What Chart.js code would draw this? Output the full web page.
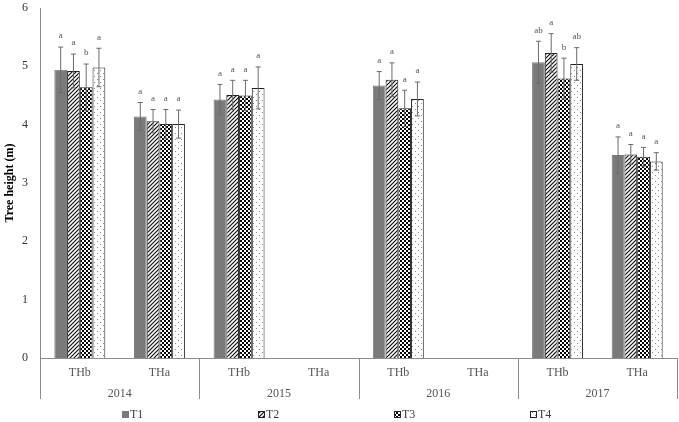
<!DOCTYPE html>
<html>
<head>
<meta charset="utf-8">
<script src="https://cdn.jsdelivr.net/npm/chart.js@4"></script>
<style>
  html, body { margin: 0; padding: 0; background: #fff; }
  #wrap { width: 679px; height: 422px; }
</style>
</head>
<body>
<div id="wrap"><canvas id="myChart" width="679" height="422"></canvas></div>
<script>
// データ
const categories = ['THb', 'THa', 'THb', 'THa', 'THb', 'THa', 'THb', 'THa'];
const years = ['2014', '2015', '2016', '2017'];
const yTicks = [0, 1, 2, 3, 4, 5, 6];

const t1 = [4.94, 4.14, 4.43, null, 4.67, null, 5.07, 3.48];
const t2 = [4.92, 4.06, 4.51, null, 4.77, null, 5.23, 3.49];
const t3 = [4.64, 4.01, 4.50, null, 4.28, null, 4.79, 3.45];
const t4 = [4.98, 4.01, 4.63, null, 4.44, null, 5.04, 3.37];

// 標準誤差
const e1 = [0.39, 0.24, 0.26, null, 0.24, null, 0.36, 0.31];
const e2 = [0.29, 0.20, 0.25, null, 0.29, null, 0.33, 0.17];
const e3 = [0.40, 0.25, 0.26, null, 0.31, null, 0.35, 0.16];
const e4 = [0.33, 0.24, 0.36, null, 0.29, null, 0.28, 0.15];

// 有意差の文字
const l1 = ['a', 'a', 'a', '', 'a', '', 'ab', 'a'];
const l2 = ['a', 'a', 'a', '', 'a', '', 'a', 'a'];
const l3 = ['b', 'a', 'a', '', 'a', '', 'b', 'a'];
const l4 = ['a', 'a', 'a', '', 'a', '', 'ab', 'a'];

const FONT = "'Liberation Serif', 'Times New Roman', serif";

// 塗りつぶしパターンを作る
function makePattern(type) {
  const c = document.createElement('canvas');
  const p = c.getContext('2d');
  if (type === 'hatch') {
    c.width = 4; c.height = 4;
    p.fillStyle = '#fff'; p.fillRect(0, 0, 4, 4);
    p.strokeStyle = '#111'; p.lineWidth = 1.2;
    p.beginPath();
    p.moveTo(-1, 5); p.lineTo(5, -1);
    p.moveTo(-1, 1); p.lineTo(1, -1);
    p.moveTo(3, 5); p.lineTo(5, 3);
    p.stroke();
  } else if (type === 'checker') {
    c.width = 4; c.height = 4;
    p.fillStyle = '#fff'; p.fillRect(0, 0, 4, 4);
    p.fillStyle = '#000';
    p.fillRect(0, 0, 2, 2); p.fillRect(2, 2, 2, 2);
  } else {
    c.width = 6; c.height = 6;
    p.fillStyle = '#fff'; p.fillRect(0, 0, 6, 6);
    p.fillStyle = '#8a8a8a';
    p.fillRect(1, 1, 1, 1); p.fillRect(4, 4, 1, 1);
  }
  return p.createPattern(c, 'repeat');
}

const errs = [e1, e2, e3, e4];
const letters = [l1, l2, l3, l4];

// 余白を固定する
function noPad(scale) {
  scale.paddingTop = 0; scale.paddingBottom = 0;
  scale.paddingLeft = 0; scale.paddingRight = 0;
}

// 誤差棒・文字・年の区切り線・凡例
const extras = {
  id: 'extras',
  afterDatasetsDraw(chart) {
    const ctx = chart.ctx;
    const y = chart.scales.y;
    ctx.save();
    ctx.strokeStyle = '#6b6b6b';
    ctx.lineWidth = 1;
    ctx.fillStyle = '#555';
    ctx.font = '9px ' + FONT;
    ctx.textAlign = 'center';
    ctx.textBaseline = 'middle';
    chart.data.datasets.forEach((ds, di) => {
      const meta = chart.getDatasetMeta(di);
      ds.data.forEach((v, i) => {
        if (v === null) return;
        const e = errs[di][i];
        const x = meta.data[i].x;
        const yt = y.getPixelForValue(v + e);
        const yb = y.getPixelForValue(v - e);
        ctx.beginPath();
        ctx.moveTo(x, yt); ctx.lineTo(x, yb);
        ctx.moveTo(x - 2.5, yt); ctx.lineTo(x + 2.5, yt);
        ctx.moveTo(x - 2.5, yb); ctx.lineTo(x + 2.5, yb);
        ctx.stroke();
        ctx.fillText(letters[di][i], x, yt - 11);
      });
    });
    ctx.restore();
  },
  afterDraw(chart) {
    const ctx = chart.ctx;
    const x = chart.scales.x;
    const x2 = chart.scales.x2;
    const half = (x.getPixelForValue(1) - x.getPixelForValue(0)) / 2;
    const top = chart.chartArea.bottom;
    const bottom = x2.bottom - 2;
    ctx.save();
    ctx.strokeStyle = '#8c8c8c';
    ctx.lineWidth = 1;
    ctx.beginPath();
    for (let k = 0; k <= years.length; k++) {
      const px = Math.round(x.getPixelForValue(k * 2) - half) + 0.5;
      ctx.moveTo(px, top); ctx.lineTo(px, bottom);
    }
    ctx.stroke();

    // 凡例（横に広く並べる）
    const ly = x2.bottom + 14;
    ctx.font = '12px ' + FONT;
    ctx.textAlign = 'left';
    ctx.textBaseline = 'middle';
    chart.data.datasets.forEach((ds, i) => {
      const lx = Math.round(chart.width * (0.18 + i * 0.2));
      ctx.fillStyle = ds.backgroundColor;
      ctx.fillRect(lx, ly - 4, 7, 7);
      if (i > 0) {
        ctx.strokeStyle = '#222';
        ctx.strokeRect(lx + 0.5, ly - 3.5, 6, 6);
      }
      ctx.fillStyle = '#404040';
      ctx.fillText(ds.label, lx + 8, ly);
    });
    ctx.restore();
  }
};

const ctx = document.getElementById('myChart').getContext('2d');
const names = ['T1', 'T2', 'T3', 'T4'];
const values = [t1, t2, t3, t4];
const fills = ['#7a7a7a', makePattern('hatch'), makePattern('checker'), makePattern('dots')];

const chart = new Chart(ctx, {
  type: 'bar',
  data: {
    labels: categories,
    datasets: names.map((n, i) => ({
      label: n,
      data: values[i],
      backgroundColor: fills[i],
      borderColor: i === 0 ? '#7a7a7a' : '#222',
      borderWidth: 1,
      categoryPercentage: 0.64,
      barPercentage: 1.0
    }))
  },
  options: {
    responsive: false,
    animation: false,
    devicePixelRatio: 1,
    layout: { padding: { top: 8, right: 2, left: 0, bottom: 21 } },
    plugins: {
      legend: { display: false },
      tooltip: { enabled: false }
    },
    scales: {
      x: {
        afterFit(scale) { noPad(scale); scale.height = 23; },
        grid: { display: false, drawTicks: false },
        border: { display: true, color: '#8c8c8c' },
        ticks: { font: { family: FONT, size: 12 }, color: '#555', padding: 8, maxRotation: 0 }
      },
      x2: {
        type: 'category',
        labels: years,
        position: 'bottom',
        afterFit(scale) { noPad(scale); scale.height = 20; },
        grid: { display: false, drawTicks: false },
        border: { display: false },
        ticks: { font: { family: FONT, size: 12 }, color: '#555', padding: 6, maxRotation: 0 }
      },
      y: {
        min: 0,
        max: 6,
        afterBuildTicks(scale) { scale.ticks = yTicks.map(v => ({ value: v })); },
        afterFit(scale) { noPad(scale); scale.width = 40; },
        grid: { display: false, drawTicks: false },
        border: { display: true, color: '#8c8c8c' },
        ticks: { font: { family: FONT, size: 12 }, color: '#333', padding: 12 },
        title: {
          display: true,
          text: 'Tree height (m)',
          font: { family: FONT, size: 12, weight: 'bold' },
          color: '#000',
          padding: { top: 3, bottom: 0 }
        }
      }
    }
  },
  plugins: [extras]
});
</script>
</body>
</html>
